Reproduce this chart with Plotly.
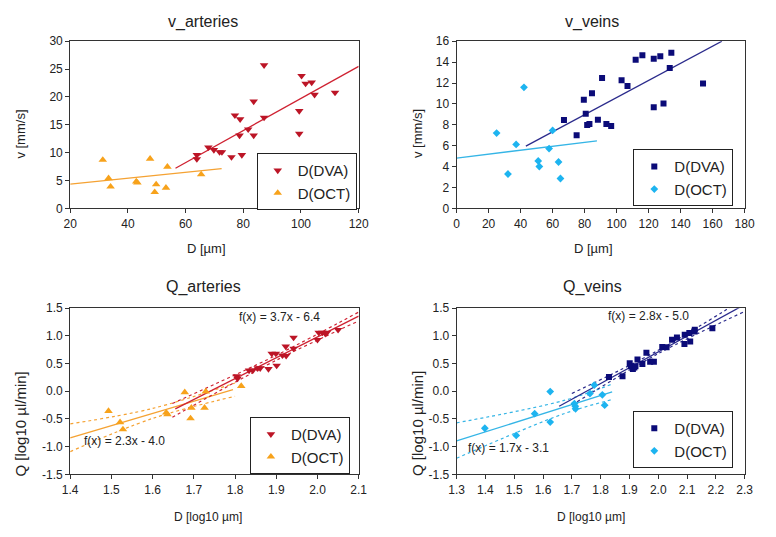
import plotly.graph_objects as go

# ---------------- data ----------------
# v_arteries
va_dva_x = [63.9, 63.9, 67.9, 69.8, 71.8, 72.6, 75.9, 77.1, 78.9, 78.7, 79.5, 81.7, 83.6, 83.6,
            87.2, 87.2, 99.4, 99.4, 100.2, 101.6, 103.7, 104.7, 111.8]
va_dva_y = [9.6, 8.85, 10.95, 10.5, 10.1, 10.1, 9.2, 16.7, 16.0, 13.1, 9.6, 14.2, 19.2, 13.1,
            25.7, 16.3, 17.5, 13.4, 23.8, 22.4, 22.6, 20.4, 20.8]
va_oct_x = [31.3, 33.3, 34.0, 42.9, 43.3, 47.7, 49.3, 49.8, 53.2, 53.7, 65.4]
va_oct_y = [8.7, 5.4, 3.9, 4.8, 4.6, 8.9, 2.9, 4.3, 3.7, 7.45, 6.1]
va_dva_fit = [0.288, -9.07]        # slope, intercept
va_dva_fit_x = [56.5, 120.0]
va_oct_fit = [0.053, 3.31]
va_oct_fit_x = [20.0, 72.5]

# v_veins
vv_dva_x = [67.1, 75.0, 79.5, 80.7, 81.6, 83.0, 84.6, 88.3, 90.9, 93.6, 96.6, 103.1, 106.8,
            111.9, 116.1, 123.2, 123.2, 127.3, 129.3, 133.2, 134.2, 154.0]
vv_dva_y = [8.45, 6.99, 10.4, 9.07, 7.98, 8.08, 11.03, 8.48, 12.49, 8.08, 7.89, 12.27, 11.71,
            14.23, 14.66, 14.32, 9.69, 14.57, 10.03, 13.45, 14.91, 11.96]
vv_oct_x = [25.0, 32.1, 37.2, 42.1, 51.0, 51.7, 57.8, 60.0, 63.7, 64.9]
vv_oct_y = [7.21, 3.29, 6.12, 11.59, 4.54, 4.01, 5.72, 7.46, 4.44, 2.86]
vv_dva_fit = [0.082, 2.41]
vv_dva_fit_x = [43.3, 165.8]
vv_oct_fit = [0.0187, 4.82]
vv_oct_fit_x = [0.0, 87.7]

# Q_arteries
qa_dva_x = [1.804, 1.806, 1.834, 1.843, 1.855, 1.861, 1.881, 1.889, 1.899, 1.901, 1.915, 1.923,
            1.924, 1.942, 1.942, 2.000, 2.003, 2.012, 2.019, 2.023, 2.050]
qa_dva_y = [0.275, 0.23, 0.375, 0.375, 0.416, 0.416, 0.404, 0.68, 0.68, 0.463, 0.65, 0.81,
            0.64, 0.97, 0.77, 0.93, 1.06, 1.06, 1.04, 1.06, 1.11]
qa_oct_x = [1.493, 1.521, 1.528, 1.633, 1.636, 1.678, 1.694, 1.692, 1.729, 1.726, 1.815]
qa_oct_y = [-0.357, -0.56, -0.69, -0.387, -0.416, -0.02, -0.30, -0.49, -0.005, -0.30, 0.094]
qa_dva_fit = [3.76, -6.54]
qa_dva_fit_x = [1.655, 2.1]
qa_dva_band_x = [1.648, 1.9, 2.1]
qa_dva_band_hi = [-0.22, 0.65, 1.43]
qa_dva_band_lo = [-0.47, 0.56, 1.27]
qa_oct_fit = [2.2, -3.92]
qa_oct_fit_x = [1.4, 1.795]
qa_oct_band_x = [1.4, 1.6, 1.8]
qa_oct_band_hi = [-0.59, -0.31, 0.15]
qa_oct_band_lo = [-1.09, -0.49, -0.09]
qa_dva_label = "f(x) = 3.7x - 6.4"
qa_oct_label = "f(x) = 2.3x - 4.0"

# Q_veins
qv_dva_x = [1.829, 1.876, 1.901, 1.905, 1.912, 1.917, 1.921, 1.928, 1.945, 1.959, 1.972, 1.985,
            2.014, 2.029, 2.048, 2.065, 2.091, 2.092, 2.108, 2.111, 2.125, 2.127, 2.188]
qv_dva_y = [0.258, 0.27, 0.504, 0.45, 0.40, 0.43, 0.45, 0.574, 0.49, 0.697, 0.533, 0.533,
            0.80, 0.797, 0.93, 0.97, 0.855, 1.02, 1.05, 0.90, 1.08, 1.11, 1.137]
qv_oct_x = [1.398, 1.507, 1.571, 1.625, 1.625, 1.709, 1.712, 1.713, 1.763, 1.778, 1.806, 1.814]
qv_oct_y = [-0.668, -0.797, -0.404, -0.006, -0.557, -0.223, -0.27, -0.316, -0.041, 0.111,
            -0.064, -0.252]
qv_dva_fit = [2.85, -4.99]
qv_dva_fit_x = [1.656, 2.3]
qv_dva_band_x = [1.70, 2.0, 2.3]
qv_dva_band_hi = [-0.04, 0.74, 1.68]
qv_dva_band_lo = [-0.25, 0.68, 1.44]
qv_oct_fit = [1.64, -3.03]
qv_oct_fit_x = [1.3, 1.84]
qv_oct_band_x = [1.3, 1.67, 1.84]
qv_oct_band_hi = [-0.57, -0.17, 0.13]
qv_oct_band_lo = [-1.21, -0.41, -0.15]
qv_dva_label = "f(x) = 2.8x - 5.0"
qv_oct_label = "f(x) = 1.7x - 3.1"

# tick labels
q_ticks = [-1.5, -1.0, -0.5, 0.0, 0.5, 1.0, 1.5]
q_tick_text = ["-1.5", "-1.0", "-0.5", "0.0", "0.5", "1.0", "1.5"]
qa_xticks = [1.4, 1.5, 1.6, 1.7, 1.8, 1.9, 2.0, 2.1]
qa_xtick_text = ["1.4", "1.5", "1.6", "1.7", "1.8", "1.9", "2.0", "2.1"]
qv_xticks = [1.3, 1.4, 1.5, 1.6, 1.7, 1.8, 1.9, 2.0, 2.1, 2.2, 2.3]
qv_xtick_text = ["1.3", "1.4", "1.5", "1.6", "1.7", "1.8", "1.9", "2.0", "2.1", "2.2", "2.3"]

titles = ["v_arteries", "v_veins", "Q_arteries", "Q_veins"]
series_names = ["D(DVA)", "D(OCT)"]

# ---------------- style ----------------
FONT = "Liberation Sans, Arial, sans-serif"
RED_M, RED_L = "#BC1526", "#CF2232"
ORA_M, ORA_L = "#F7A21B", "#F5A233"
NAV_M, NAV_L = "#0B0B78", "#2B2B8C"
CYA_M, CYA_L = "#1DB4F0", "#35B5E6"
OFF = 8                      # default body margin of the html page (each side)
W, H = 776 - 2 * OFF, 537 - 2 * OFF

fig = go.Figure()


def pts(x, y, name, sym, color, size, xa, ya, leg):
    fig.add_trace(go.Scatter(x=x, y=y, mode="markers", name=name,
                             marker=dict(symbol=sym, color=color, size=size, line=dict(width=0)),
                             xaxis=xa, yaxis=ya, legend=leg, showlegend=True))


def fit(xr, coef, color, xa, ya, dash="solid", width=1.3):
    fig.add_trace(go.Scatter(x=xr, y=[coef[0] * v + coef[1] for v in xr], mode="lines",
                             line=dict(color=color, width=width, dash=dash),
                             xaxis=xa, yaxis=ya, showlegend=False, hoverinfo="skip"))


def band(xb, yb, color, xa, ya):
    fig.add_trace(go.Scatter(x=xb, y=yb, mode="lines",
                             line=dict(color=color, width=1.2, dash="dot", shape="spline"),
                             xaxis=xa, yaxis=ya, showlegend=False, hoverinfo="skip"))


# panel 1
fit(va_oct_fit_x, va_oct_fit, ORA_L, "x", "y")
fit(va_dva_fit_x, va_dva_fit, RED_L, "x", "y")
pts(va_dva_x, va_dva_y, series_names[0], "triangle-down", RED_M, 7.5, "x", "y", "legend")
pts(va_oct_x, va_oct_y, series_names[1], "triangle-up", ORA_M, 7.5, "x", "y", "legend")
# panel 2
fit(vv_oct_fit_x, vv_oct_fit, CYA_L, "x2", "y2")
fit(vv_dva_fit_x, vv_dva_fit, NAV_L, "x2", "y2")
pts(vv_dva_x, vv_dva_y, series_names[0], "square", NAV_M, 6, "x2", "y2", "legend2")
pts(vv_oct_x, vv_oct_y, series_names[1], "diamond", CYA_M, 6, "x2", "y2", "legend2")
# panel 3
fit(qa_oct_fit_x, qa_oct_fit, ORA_L, "x3", "y3")
band(qa_oct_band_x, qa_oct_band_hi, ORA_L, "x3", "y3")
band(qa_oct_band_x, qa_oct_band_lo, ORA_L, "x3", "y3")
fit(qa_dva_fit_x, qa_dva_fit, RED_L, "x3", "y3")
band(qa_dva_band_x, qa_dva_band_hi, RED_L, "x3", "y3")
band(qa_dva_band_x, qa_dva_band_lo, RED_L, "x3", "y3")
pts(qa_dva_x, qa_dva_y, series_names[0], "triangle-down", RED_M, 7.5, "x3", "y3", "legend3")
pts(qa_oct_x, qa_oct_y, series_names[1], "triangle-up", ORA_M, 7.5, "x3", "y3", "legend3")
# panel 4
fit(qv_oct_fit_x, qv_oct_fit, CYA_L, "x4", "y4")
band(qv_oct_band_x, qv_oct_band_hi, CYA_L, "x4", "y4")
band(qv_oct_band_x, qv_oct_band_lo, CYA_L, "x4", "y4")
fit(qv_dva_fit_x, qv_dva_fit, NAV_L, "x4", "y4")
band(qv_dva_band_x, qv_dva_band_hi, NAV_L, "x4", "y4")
band(qv_dva_band_x, qv_dva_band_lo, NAV_L, "x4", "y4")
pts(qv_dva_x, qv_dva_y, series_names[0], "square", NAV_M, 6, "x4", "y4", "legend4")
pts(qv_oct_x, qv_oct_y, series_names[1], "diamond", CYA_M, 6, "x4", "y4", "legend4")


def px_x(a):
    return (a - OFF) / W


def px_y(a):
    return 1 - (a - OFF) / H


def axis(dom, anchor, **kw):
    d = dict(domain=dom, anchor=anchor, showline=True, linecolor="#333", linewidth=1,
             mirror=True, ticks="outside", ticklen=4, tickcolor="#333", showgrid=False,
             zeroline=False, tickfont=dict(family=FONT, size=12, color="#222"))
    d.update(kw)
    return d


xl = [px_x(63.5), px_x(359.0)]
xr = [px_x(459.3), px_x(754.3)]
yt = [px_y(206.7), px_y(35.0)]
yb = [px_y(480.0), px_y(309.3)]


def leg(xright, ytop):
    return dict(x=px_x(xright), y=px_y(ytop), xanchor="right", yanchor="top",
                bgcolor="white", bordercolor="#222", borderwidth=1, itemwidth=30,
                font=dict(family=FONT, size=15, color="#222"), tracegroupgap=0)


ann = []


def text(x, y, s, size=12, angle=0, xref="paper", yref="paper"):
    ann.append(dict(x=x, y=y, xref=xref, yref=yref, text=s, showarrow=False,
                    textangle=angle, xanchor="center", yanchor="middle",
                    font=dict(family=FONT, size=size, color="#222")))


# subplot titles
text(px_x(200), px_y(15), titles[0], 16)
text(px_x(598), px_y(15), titles[1], 16)
text(px_x(200), px_y(288), titles[2], 16)
text(px_x(598), px_y(288), titles[3], 16)
# axis titles
text(px_x(203), px_y(248), "D [µm]", 13)
text(px_x(599), px_y(248), "D [µm]", 13)
text(px_x(205), px_y(524), "D [log10 µm]", 12)
text(px_x(597), px_y(524), "D [log10 µm]", 12)
text(px_x(13), px_y(130), "v [mm/s]", 13, angle=-90)
text(px_x(419), px_y(130), "v [mm/s]", 13, angle=-90)
text(px_x(13), px_y(428), "Q [log10 µl/min]", 15, angle=-90)
text(px_x(419), px_y(428), "Q [log10 µl/min]", 15, angle=-90)
# fit labels
text(1.908, 1.35, qa_dva_label, xref="x3", yref="y3")
text(1.532, -0.90, qa_oct_label, xref="x3", yref="y3")
text(1.967, 1.353, qv_dva_label, xref="x4", yref="y4")
text(1.481, -1.02, qv_oct_label, xref="x4", yref="y4")

fig.update_layout(
    width=W, height=H, autosize=False,
    margin=dict(l=0, r=0, t=0, b=0),
    paper_bgcolor="white", plot_bgcolor="white",
    font=dict(family=FONT, color="#222"),
    xaxis=axis(xl, "y", range=[20, 120], dtick=20, tick0=20),
    yaxis=axis(yt, "x", range=[0, 30], dtick=5, tick0=0),
    xaxis2=axis(xr, "y2", range=[0, 180], dtick=20, tick0=0),
    yaxis2=axis(yt, "x2", range=[0, 16], dtick=2, tick0=0),
    xaxis3=axis(xl, "y3", range=[1.4, 2.1], tickvals=qa_xticks, ticktext=qa_xtick_text),
    yaxis3=axis(yb, "x3", range=[-1.5, 1.5], tickvals=q_ticks, ticktext=q_tick_text),
    xaxis4=axis(xr, "y4", range=[1.3, 2.3], tickvals=qv_xticks, ticktext=qv_xtick_text),
    yaxis4=axis(yb, "x4", range=[-1.5, 1.5], tickvals=q_ticks, ticktext=q_tick_text),
    legend=leg(357, 150),
    legend2=leg(742.7, 146),
    legend3=leg(350, 421),
    legend4=leg(742.7, 415),
    annotations=ann,
    showlegend=True,
)

fig.write_html("out.html")
